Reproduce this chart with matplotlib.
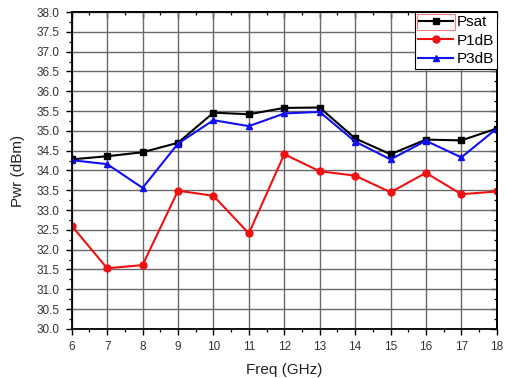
import numpy as np
import matplotlib
matplotlib.use("Agg")
from matplotlib import pyplot as plt
from matplotlib.ticker import MultipleLocator
from matplotlib.patches import Rectangle

plt.rcParams['font.family'] = ['Liberation Sans', 'DejaVu Sans']

freq = [6, 7, 8, 9, 10, 11, 12, 13, 14, 15, 16, 17, 18]
psat = [34.28, 34.36, 34.46, 34.70, 35.46, 35.42, 35.58, 35.59, 34.81, 34.41, 34.78, 34.76, 35.06]
p1db = [32.60, 31.53, 31.61, 33.49, 33.36, 32.41, 34.41, 33.98, 33.87, 33.45, 33.94, 33.40, 33.47]
p3db = [34.26, 34.16, 33.56, 34.68, 35.27, 35.12, 35.44, 35.48, 34.73, 34.28, 34.75, 34.33, 35.06]

fig = plt.figure(figsize=(5.09, 3.78), dpi=100)
ax = fig.add_axes([0.141, 0.130, 0.835, 0.838])

ax.plot(freq, psat, '-s', color='black', lw=1.5, ms=4.5, label='Psat')
ax.plot(freq, p1db, '-o', color='#f01010', lw=1.5, ms=5, label='P1dB')
ax.plot(freq, p3db, '-^', color='#1010f0', lw=1.5, ms=5, label='P3dB')

ax.set_xlim(6, 18)
ax.set_ylim(30, 38)
ax.xaxis.set_major_locator(MultipleLocator(1))
ax.xaxis.set_minor_locator(MultipleLocator(0.5))
ax.yaxis.set_major_locator(MultipleLocator(0.5))
ax.yaxis.set_minor_locator(MultipleLocator(0.25))
ax.yaxis.set_major_formatter(plt.FormatStrFormatter('%.1f'))
ax.grid(True, which='major', color='#6a6a6a', lw=1.0)
ax.set_axisbelow(True)

# outward ticks on bottom/left with labels
ax.tick_params(which='both', direction='out', labelsize=8.5, labelcolor='#333333', pad=5)
ax.tick_params(which='major', length=4, width=1)
ax.tick_params(which='minor', length=2.5, width=0.9)

# inward ticks on top/right
top = ax.secondary_xaxis('top')
top.xaxis.set_major_locator(MultipleLocator(1))
top.xaxis.set_minor_locator(MultipleLocator(0.5))
top.tick_params(which='both', direction='in', labeltop=False)
top.tick_params(which='major', length=4, width=1)
top.tick_params(which='minor', length=2.5, width=0.9)
right = ax.secondary_yaxis('right')
right.yaxis.set_major_locator(MultipleLocator(0.5))
right.yaxis.set_minor_locator(MultipleLocator(0.25))
right.tick_params(which='both', direction='in', labelright=False)
right.tick_params(which='major', length=4, width=1)
right.tick_params(which='minor', length=2.5, width=0.9)

for s in list(ax.spines.values()) + [top.spines['top'], right.spines['right']]:
    s.set_linewidth(1.3)

ax.set_xlabel('Freq (GHz)', fontsize=11, labelpad=7, color='#222222')
ax.set_ylabel('Pwr (dBm)', fontsize=11, labelpad=8, color='#222222')

leg = ax.legend(loc='upper right', fontsize=11, fancybox=False, framealpha=1,
                edgecolor='black', borderaxespad=0, handlelength=2.3,
                handletextpad=0.2, borderpad=0.2, labelspacing=0.3)
leg.get_frame().set_linewidth(0.8)

# thin red box around the Psat legend entry (as in the original)
fig.canvas.draw()
inv = fig.transFigure.inverted()
fb = leg.get_frame().get_window_extent()
tb = leg.get_texts()[0].get_window_extent()
(x0, y0), (x1, y1) = inv.transform([(fb.x0 + 2, tb.y0 - 1), (tb.x0 - 1, fb.y1 - 2)])
fig.add_artist(Rectangle((x0, y0), x1 - x0, y1 - y0, transform=fig.transFigure,
                         fill=False, edgecolor='#f08080', lw=0.8, zorder=10))

fig.savefig('out.png', dpi=100)
